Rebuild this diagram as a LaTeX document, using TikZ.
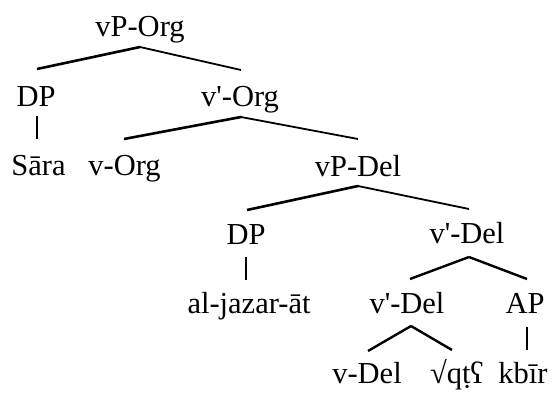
\documentclass[tikz,border=0pt]{standalone}
\usepackage{fontspec}
\setmainfont{Liberation Serif}
\usetikzlibrary{calc}
\begin{document}
\begin{tikzpicture}[x=1pt,y=-1pt,
  lbl/.style={anchor=base,inner sep=0pt,font=\fontsize{30.5}{36}\selectfont},
  branchL/.style={line width=2.6pt},
  branchR/.style={line width=1.8pt},
  branchT/.style={line width=2.4pt},
  stem/.style={line width=1.6pt}]
\useasboundingbox (0,0) rectangle (554,392);
% labels of the tree
\node[lbl] (vporg) at (140,36) {vP-Org};
\node[lbl] (dpA)   at (36,106) {DP};
\node[lbl] (vbarorg) at (240,106) {v\textquotesingle-Org};
\node[lbl] (sara)  at (38.5,175) {Sāra};
\node[lbl] (vorg)  at (124.5,175) {v-Org};
\node[lbl] (vpdel) at (358,176) {vP-Del};
\node[lbl] (dpB)   at (246,244) {DP};
\node[lbl] (vbardelA) at (467,243) {v\textquotesingle-Del};
\node[lbl] (jazar) at (249,313) {al-jazar-āt};
\node[lbl] (vbardelB) at (407,313) {v\textquotesingle-Del};
\node[lbl] (ap)    at (525,313) {AP};
\node[lbl] (vdel)  at (367,383) {v-Del};
\node[lbl] (root)  at (457,383) {√qṭʕ};
\node[lbl] (kbir)  at (523,383) {kbīr};
% branches
\draw[branchL] ($(vporg.base)+(0,11)$) -- ($(dpA.base)+(1,-37)$);
\draw[branchR] ($(vporg.base)+(0,11)$) -- ($(vbarorg.base)+(1,-36)$);
\draw[stem] ($(dpA.base)+(1,10)$) -- ($(sara.base)+(-1.5,-36)$);
\draw[branchL] ($(vbarorg.base)+(1,11)$) -- ($(vorg.base)+(-0.5,-36)$);
\draw[branchR] ($(vbarorg.base)+(1,11)$) -- ($(vpdel.base)+(0,-37)$);
\draw[branchL] ($(vpdel.base)+(0,10)$) -- ($(dpB.base)+(1,-34)$);
\draw[branchR] ($(vpdel.base)+(0,10)$) -- ($(vbardelA.base)+(2,-34)$);
\draw[stem] ($(dpB.base)+(0,13)$) -- ($(jazar.base)+(-3,-33)$);
\draw[branchT] ($(vbardelA.base)+(2,14)$) -- ($(vbardelB.base)+(3,-34)$);
\draw[branchT] ($(vbardelA.base)+(2,14)$) -- ($(ap.base)+(2,-34)$);
\draw[stem] ($(ap.base)+(2,14)$) -- ($(kbir.base)+(4,-33)$);
\draw[branchT] ($(vbardelB.base)+(4,13)$) -- ($(vdel.base)+(1,-32)$);
\draw[branchT] ($(vbardelB.base)+(4,13)$) -- ($(root.base)+(-5,-33)$);
\end{tikzpicture}
\end{document}
